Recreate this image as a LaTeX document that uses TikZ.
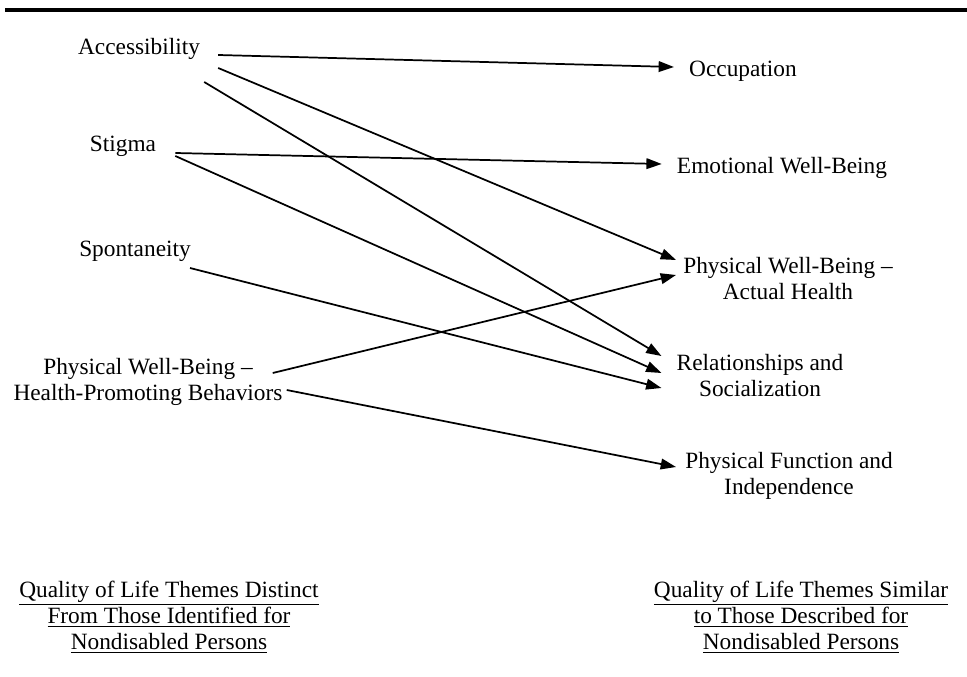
\documentclass[tikz,border=0pt]{standalone}
\usepackage{fontspec}
\setmainfont{Liberation Serif}
\usetikzlibrary{arrows.meta,calc}

\begin{document}
\begin{tikzpicture}[x=0.75pt, y=-0.75pt,
  every node/.style={font=\fontsize{17.5}{19.5}\selectfont, align=center, inner sep=0pt},
  arr/.style={-{Triangle[length=11.5pt,width=8pt]}, line width=1.3pt}]
\useasboundingbox (0,0) rectangle (967,677);
% Top rule
\draw[line width=2.6pt] (5,10) -- (967,10);
% Distinct themes (left)
\node (acc) at (139,49) {Accessibility};
\node (stig) at (123,146) {Stigma};
\node (spon) at (135,251) {Spontaneity};
\node (pwb) at (148,382) {Physical Well-Being –\\Health-Promoting Behaviors};
% Similar themes (right)
\node (occ) at (743,71) {Occupation};
\node (emo) at (782,168) {Emotional Well-Being};
\node (act) at (788,279) {Physical Well-Being –\\Actual Health};
\node (rel) at (760,376) {Relationships and\\Socialization};
\node (pf) at (789,476) {Physical Function and\\Independence};
% Column captions
\node (capl) at (169,617) {\underline{Quality of Life Themes Distinct}\\\underline{From Those Identified for}\\\underline{Nondisabled Persons}};
\node (capr) at (801,617) {\underline{Quality of Life Themes Similar}\\\underline{to Those Described for}\\\underline{Nondisabled Persons}};
% Links
\foreach \a/\sx/\sy/\b/\tx/\ty in {acc/18/6/occ/-15/-4, acc/18/19/act/-7/-19, acc/4/33/rel/-15/-20,
  stig/19/7/emo/-15/-4, stig/19/10/rel/-15/-3, spon/-1/17/rel/-15/12,
  pwb/-10/-9/act/-7/-4, pwb/4/8/pf/-9/-9} {
  \draw[arr] ($(\a.east)+(\sx,\sy)$) -- ($(\b.west)+(\tx,\ty)$);
}
\end{tikzpicture}
\end{document}
